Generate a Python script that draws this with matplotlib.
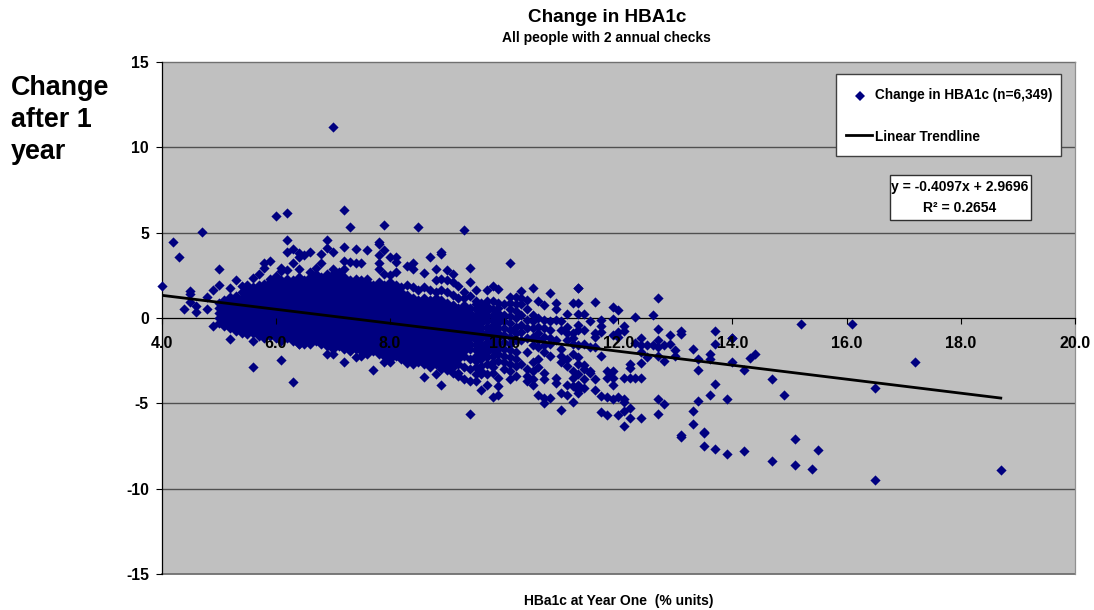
import matplotlib
matplotlib.use("Agg")
import matplotlib.pyplot as plt
from matplotlib.patches import Rectangle

plt.rcParams['font.family'] = ['Liberation Sans', 'DejaVu Sans']
plt.rcParams['font.weight'] = 'bold'
plt.rcParams['axes.unicode_minus'] = False

# dense part of the cloud, one list of changes per HbA1c column
cloud_x = [5.0, 5.1, 5.2, 5.3, 5.4, 5.5, 5.6, 5.7, 5.8, 5.9,
           6.0, 6.1, 6.2, 6.3, 6.4, 6.5, 6.6, 6.7, 6.8, 6.9,
           7.0, 7.1, 7.2, 7.3, 7.4, 7.5, 7.6, 7.7, 7.8, 7.9,
           8.0, 8.1, 8.2, 8.3, 8.4, 8.5, 8.6, 8.7, 8.8, 8.9,
           9.0, 9.1, 9.2, 9.3, 9.4]
cloud_change = [
    [-.3, 0, .3, .6, .9],
    [-.45, -.15, .15, .45, .75, 1.05],
    [-.6, -.3, 0, .3, .6, .9, 1.2],
    [-.75, -.45, -.15, .15, .45, .75, 1.05, 1.3],
    [-.9, -.6, -.3, 0, .3, .6, .9, 1.2, 1.5],
    [-.95, -.75, -.45, -.15, .15, .45, .75, 1.05, 1.35, 1.65],
    [-.9, -.6, -.3, 0, .3, .6, .9, 1.2, 1.5, 1.8],
    [-1.05, -.75, -.45, -.15, .15, .45, .75, 1.05, 1.35, 1.65, 1.95],
    [-1.2, -.9, -.6, -.3, 0, .3, .6, .9, 1.2, 1.5, 1.8, 2.0],
    [-1.05, -.75, -.45, -.15, .15, .45, .75, 1.05, 1.35, 1.65, 1.95, 2.1],
    [-1.2, -.9, -.6, -.3, 0, .3, .6, .9, 1.2, 1.5, 1.8, 2.1],
    [-1.35, -1.05, -.75, -.45, -.15, .15, .45, .75, 1.05, 1.35, 1.65, 1.95, 2.25],
    [-1.2, -.9, -.6, -.3, 0, .3, .6, .9, 1.2, 1.5, 1.8, 2.1, 2.3],
    [-1.35, -1.05, -.75, -.45, -.15, .15, .45, .75, 1.05, 1.35, 1.65, 1.95, 2.25],
    [-1.5, -1.2, -.9, -.6, -.3, 0, .3, .6, .9, 1.2, 1.5, 1.8, 2.1, 2.4],
    [-1.35, -1.05, -.75, -.45, -.15, .15, .45, .75, 1.05, 1.35, 1.65, 1.95, 2.25],
    [-1.5, -1.2, -.9, -.6, -.3, 0, .3, .6, .9, 1.2, 1.5, 1.8, 2.1, 2.4],
    [-1.35, -1.05, -.75, -.45, -.15, .15, .45, .75, 1.05, 1.35, 1.65, 1.95, 2.25, 2.55],
    [-1.5, -1.2, -.9, -.6, -.3, 0, .3, .6, .9, 1.2, 1.5, 1.8, 2.1, 2.4],
    [-1.65, -1.35, -1.05, -.75, -.45, -.15, .15, .45, .75, 1.05, 1.35, 1.65, 1.95, 2.25, 2.55],
    [-1.8, -1.5, -1.2, -.9, -.6, -.3, 0, .3, .6, .9, 1.2, 1.5, 1.8, 2.1, 2.4, 2.6],
    [-1.65, -1.35, -1.05, -.75, -.45, -.15, .15, .45, .75, 1.05, 1.35, 1.65, 1.95, 2.25, 2.55],
    [-1.8, -1.5, -1.2, -.9, -.6, -.3, 0, .3, .6, .9, 1.2, 1.5, 1.8, 2.1, 2.4],
    [-1.95, -1.65, -1.35, -1.05, -.75, -.45, -.15, .15, .45, .75, 1.05, 1.35, 1.65, 1.95, 2.25],
    [-1.8, -1.5, -1.2, -.9, -.6, -.3, 0, .3, .6, .9, 1.2, 1.5, 1.8, 2.1, 2.3],
    [-1.95, -1.65, -1.35, -1.05, -.75, -.45, -.15, .15, .45, .75, 1.05, 1.35, 1.65, 1.95, 2.25],
    [-2.1, -1.8, -1.5, -1.2, -.9, -.6, -.3, 0, .3, .6, .9, 1.2, 1.5, 1.8, 2.1],
    [-1.95, -1.65, -1.35, -1.05, -.75, -.45, -.15, .15, .45, .75, 1.05, 1.35, 1.65, 1.95],
    [-2.1, -1.8, -1.5, -1.2, -.9, -.6, -.3, 0, .3, .6, .9, 1.2, 1.5, 1.8, 2.1],
    [-2.25, -1.95, -1.65, -1.35, -1.05, -.75, -.45, -.15, .15, .45, .75, 1.05, 1.35, 1.65, 1.95],
    [-2.4, -2.1, -1.8, -1.5, -1.2, -.9, -.6, -.3, 0, .3, .6, .9, 1.2, 1.5, 1.8, 2.1],
    [-2.25, -1.95, -1.65, -1.35, -1.05, -.75, -.45, -.15, .15, .45, .75, 1.05, 1.35, 1.65, 1.95],
    [-2.4, -2.1, -1.8, -1.5, -1.2, -.9, -.6, -.3, 0, .3, .6, .9, 1.2, 1.5, 1.8],
    [-2.55, -2.25, -1.95, -1.65, -1.35, -1.05, -.75, -.45, -.15, .15, .45, .75, 1.05, 1.35, 1.95],
    [-2.7, -2.4, -2.1, -1.8, -1.5, -1.2, -.9, -.6, -.3, 0, .3, .6, .9, 1.2, 1.8],
    [-2.55, -2.25, -1.95, -1.65, -1.35, -1.05, -.75, -.45, -.15, .15, .45, .75, 1.05, 1.65],
    [-2.7, -2.4, -2.1, -1.8, -1.5, -1.2, -.9, -.6, -.3, 0, .3, .6, .9, 1.2, 1.8],
    [-2.85, -2.55, -2.25, -1.95, -1.65, -1.35, -1.05, -.75, -.45, -.15, .15, .45, .75, 1.05, 1.65],
    [-2.7, -2.4, -2.1, -1.8, -1.5, -1.2, -.9, -.6, -.3, 0, .3, .6, .9, 1.2, 1.5],
    [-2.85, -2.55, -2.25, -1.95, -1.65, -1.35, -1.05, -.75, -.45, -.15, .15, .45, .75, 1.05, 1.65],
    [-3.0, -2.7, -2.4, -2.1, -1.8, -1.5, -1.2, -.9, -.6, -.3, 0, .3, .6, .9, 1.5],
    [-2.85, -2.55, -2.25, -1.95, -1.65, -1.35, -1.05, -.75, -.45, -.15, .15, .45, .75, 1.35],
    [-3.4, -2.7, -2.4, -2.1, -1.8, -1.5, -1.2, -.9, -.6, -.3, 0, .3, .6, 1.2, 1.9],
    [-3.6, -2.85, -2.25, -1.95, -1.65, -1.35, -1.05, -.75, -.45, -.15, .15, .45, .75, 1.2, 1.5],
    [-3.7, -3.0, -2.4, -1.8, -1.5, -1.2, -.9, -.6, -.3, 0, .3, .6, 1.3, 2.1],
]

# thinner columns to the right of the cloud
sparse_x = [9.5, 9.6, 9.7, 9.8, 9.9, 10.0, 10.1, 10.2, 10.3, 10.4,
            10.5, 10.6, 10.7, 10.8, 10.9, 11.0, 11.1, 11.2, 11.3, 11.4]
sparse_change = [
    [1.65, 1.0, .8, .5, .2, -.1, -.4, -.7, -1.0, -1.3, -1.6, -1.9, -2.2, -2.5, -2.9, -3.3, -3.7],
    [.9, .6, .3, 0, -.3, -.6, -.9, -1.2, -1.5, -1.8, -2.1, -2.4, -2.8, -3.1, -3.3, -4.2],
    [1.65, 1.0, .7, .4, .1, -.2, -.5, -.8, -1.1, -1.4, -1.7, -2.0, -2.3, -2.7, -3.3, -3.9],
    [1.9, 1.0, .5, .2, -.1, -.4, -.7, -1.0, -1.3, -1.6, -1.9, -2.2, -2.6, -2.9, -3.2, -4.6],
    [1.7, .9, .6, .3, 0, -.3, -.6, -.9, -1.2, -1.5, -1.8, -2.1, -2.5, -3.5, -4.0, -4.5],
    [.8, .2, -.2, -.6, -1.0, -1.4, -1.8, -2.2, -2.6, -3.0],
    [1.25, .9, .5, .1, -.3, -.7, -1.1, -1.5, -1.9, -2.3, -2.7, -3.1, -3.6],
    [1.25, .8, .4, 0, -.5, -.9, -1.3, -2.0, -2.4, -2.8, -3.4],
    [1.6, 1.2, .8, .2, -.4, -.8, -1.3, -2.7],
    [1.05, .5, -.1, -.6, -1.2, -2.0, -3.0, -3.4, -3.7],
    [1.75, .2, -.2, -.6, -1.1, -1.6, -2.6, -3.1, -3.6, -3.9],
    [1.0, 0, -.5, -.9, -1.3, -1.7, -2.4, -2.9, -4.5],
    [.75, -.1, -.6, -1.1, -1.6, -2.0, -3.2, -3.6, -4.7, -5.0],
    [1.45, -.2, -.7, -1.2, -1.5, -2.2, -4.7],
    [.85, .5, -.1, -1.3, -3.5, -3.8],
    [-.2, -.7, -1.8, -2.2, -2.6, -4.4, -5.4],
    [.25, -.5, -.9, -1.3, -2.4, -2.8, -3.9, -4.5],
    [.85, -.9, -1.2, -1.5, -2.1, -3.1, -3.5, -4.0, -4.9],
    [1.75, .85, .25, -.4, -.7, -1.6, -2.3, -2.7, -3.3, -3.9, -4.2, -4.4],
    [.25, -.7, -1.5, -2.75, -3.0, -3.6, -4.1],
]

# single points, left side and upper and lower fringe of the cloud
left_x = [4.0, 4.2, 4.3, 4.7, 4.5, 4.5, 4.5, 4.4, 4.6, 4.6, 4.8, 4.8, 5.0, 5.0, 4.9, 5.2, 5.2, 5.2, 5.3,
          4.9, 5.2, 5.6, 6.1, 6.3, 5.6]
left_y = [1.9, 4.45, 3.55, 5.05, 1.6, 1.4, .95, .55, .7, .35, 1.25, .55, 2.85, 1.95, 1.65, 1.75, 1.25, 1.05, 2.25,
          -.45, -1.25, -2.9, -2.45, -3.75, -1.35]

upper_x = [7.0, 6.0, 6.2, 7.2, 7.3, 7.9, 8.5, 6.2, 6.9, 7.2, 7.8, 7.8, 6.2, 6.3, 6.4, 6.4, 6.5, 6.6,
           6.8, 6.9, 7.0, 7.4, 7.6, 7.9, 7.8, 8.0, 8.1, 8.1, 8.9, 8.9, 8.7, 6.3, 5.9, 5.8, 5.8,
           5.7, 5.6, 5.5, 5.4, 6.1, 6.2, 6.4, 6.1, 5.9, 6.0, 6.7, 6.6, 6.8, 7.2, 7.3, 7.4, 7.5,
           7.0, 7.1, 7.2, 7.8, 7.8, 7.9, 8.0, 8.1, 8.3, 8.4, 8.4, 8.6, 8.8, 9.0, 9.1, 8.8, 7.6,
           9.3, 9.4, 9.0, 9.1, 8.9]
upper_y = [11.2, 5.95, 6.15, 6.35, 5.35, 5.45, 5.35, 4.55, 4.55, 4.15, 4.45, 4.35, 3.85, 4.05, 3.8, 3.55, 3.7, 3.85,
           3.75, 4.1, 3.85, 4.05, 4.0, 4.0, 3.7, 3.55, 3.55, 3.3, 3.85, 3.75, 3.55, 3.25, 3.35, 3.2, 2.95,
           2.6, 2.35, 1.95, 1.85, 2.95, 2.8, 2.85, 2.75, 2.3, 2.45, 2.95, 2.7, 3.25, 3.35, 3.3, 3.2, 3.2,
           2.85, 2.7, 2.85, 3.2, 2.85, 2.6, 2.5, 2.7, 3.05, 3.2, 2.9, 2.65, 2.85, 2.8, 2.6, 2.25, 2.3,
           5.15, 2.95, 2.2, 2.1, 2.3]

lower_x = [6.9, 7.0, 7.2, 7.4, 7.5, 7.7, 7.6, 7.9, 8.0, 8.3, 8.4, 8.6, 8.8, 8.9, 9.0, 9.2, 6.5, 6.4, 9.4, 8.9, 9.1]
lower_y = [-2.1, -2.1, -2.55, -2.3, -2.25, -3.05, -2.0, -2.55, -2.55, -2.65, -2.25, -3.45, -3.3, -3.9, -3.05, -3.25, -1.5, -1.5, -5.6, -3.0, -3.2]

# right hand side, read one by one
right_x = [10.1, 11.3, 11.6, 11.9, 12.0, 12.3, 12.6, 12.7, 11.5, 11.7, 11.9, 11.7, 12.1, 12.0, 12.1, 11.7, 11.6, 11.6,
           11.9, 12.0, 12.4, 12.7, 12.7, 12.9, 13.1, 13.1, 13.7, 14.0, 13.7, 11.5, 11.6, 11.7, 12.3, 12.4, 12.5, 12.6,
           12.7, 12.8, 12.9, 12.4, 12.5, 12.7, 12.8, 13.0, 13.0, 13.3, 13.4, 13.6, 13.6, 14.0, 12.4, 12.2, 12.2, 13.4,
           11.8, 11.9, 11.85, 11.8, 11.9, 11.9, 12.1, 12.2, 12.3, 12.4, 11.6, 11.5, 11.5, 13.7, 11.6, 13.6, 13.9, 13.4,
           12.7, 12.8, 11.7, 11.8, 11.9, 12.0, 12.1, 12.1, 12.2, 12.1, 11.7, 11.8, 12.0, 12.2, 12.4, 12.1, 12.7, 13.3,
           13.3, 13.5, 13.1, 13.1, 13.5, 13.7, 15.2, 16.1, 14.4, 14.3, 14.0, 14.2, 14.7, 14.9, 16.5, 17.2, 18.7, 16.5,
           15.4, 15.1, 15.5, 15.1, 14.7, 14.2, 13.9, 13.5]
right_y = [3.25, 1.75, .95, .65, .45, .05, .15, 1.15, -.15, -.1, -.05, -.45, -.45, -.8, -.75, -.8, -.85, -1.1,
           -1.0, -1.1, -1.15, -.65, -1.3, -1.0, -.75, -.95, -.75, -1.15, -1.5, -1.7, -1.7, -2.25, -1.45, -1.6, -1.6, -1.6,
           -1.7, -1.6, -1.5, -2.0, -2.3, -2.2, -2.5, -1.9, -2.25, -1.8, -2.4, -2.1, -2.4, -2.6, -2.65, -2.7, -2.95, -3.05,
           -3.1, -3.1, -3.3, -3.5, -3.5, -3.9, -3.5, -3.5, -3.5, -3.5, -3.6, -3.1, -3.25, -3.85, -4.2, -4.5, -4.75, -4.85,
           -4.75, -5.05, -4.55, -4.6, -4.75, -4.65, -4.75, -4.95, -5.25, -5.45, -5.5, -5.7, -5.7, -5.85, -5.85, -6.3, -5.6, -5.45,
           -6.2, -6.7, -6.85, -6.95, -7.5, -7.7, -.33, -.33, -2.1, -2.35, -1.15, -3.05, -3.55, -4.5, -4.1, -2.6, -8.9, -9.5,
           -8.85, -8.6, -7.75, -7.1, -8.4, -7.8, -7.95, -6.75]

# trendline as given by the equation on the chart
slope = -0.4097
intercept = 2.9696
trend_x = [4.0, 18.7]

x_ticks = [4, 6, 8, 10, 12, 14, 16, 18, 20]
y_ticks = [-15, -10, -5, 0, 5, 10, 15]

NAVY = '#000080'
GREY = '#C0C0C0'

hba1c = []
change = []
for x, ys in zip(cloud_x + sparse_x, cloud_change + sparse_change):
    hba1c += [x] * len(ys)
    change += ys
hba1c += left_x + upper_x + lower_x + right_x
change += left_y + upper_y + lower_y + right_y

W, H = 1094, 610
fig = plt.figure(figsize=(W / 100, H / 100), dpi=100)
ax = fig.add_axes([161.6 / W, 1 - 574 / H, (1075 - 161.6) / W, (574 - 62) / H])
ax.set_facecolor(GREY)


def fx(px):
    return px / W


def fy(py):
    return 1 - py / H


for lev in [-10, -5, 5, 10]:
    ax.axhline(lev, color='#505050', lw=1.0, zorder=1)

ax.scatter(hba1c, change, marker='D', s=27, color=NAVY, linewidths=0, zorder=2, clip_on=False, snap=False)
ax.plot(trend_x, [slope * x + intercept for x in trend_x], color='black', lw=2.0, zorder=3)

ax.set_xlim(4, 20)
ax.set_ylim(-15, 15)
ax.set_xticks(x_ticks)
ax.set_xticklabels([f'{v:.1f}' for v in x_ticks])
ax.set_yticks(y_ticks)
ax.spines['bottom'].set_position(('data', 0))
ax.axhline(-15, color='#707070', lw=1.3, zorder=1, clip_on=False)
ax.axhline(15, color='#707070', lw=1.0, zorder=1, clip_on=False)
for side, sp in ax.spines.items():
    sp.set_zorder(1)
    sp.set_linewidth(0.9)
ax.spines['top'].set_visible(False)
ax.spines['right'].set_color('#909090')
ax.tick_params(axis='x', direction='out', length=4.3, width=0.8, pad=9, labelsize=11.5)
ax.tick_params(axis='y', direction='out', length=4.3, width=0.8, pad=4.8, labelsize=11.3)
ax.xaxis.set_zorder(5)

fig.text(fx(607), fy(17), 'Change in HBA1c', ha='center', va='center', fontsize=13.6)
fig.text(fx(606.7), fy(38), 'All people with 2 annual checks', ha='center', va='center', fontsize=10)
fig.text(fx(618.3), fy(601.5), 'HBa1c at Year One  (% units)', ha='center', va='center', fontsize=10)
fig.text(fx(11), fy(120), 'Change\nafter 1\nyear', ha='left', va='center', fontsize=19.4, linespacing=1.3)

# legend box
fig.add_artist(Rectangle((fx(836), fy(156)), 225 / W, 82 / H, transform=fig.transFigure,
                         facecolor='white', edgecolor='#404040', lw=1.0, zorder=6))
fig.add_artist(plt.Line2D([fx(859.5)], [fy(95.5)], marker='D', ms=4.6, color=NAVY, mew=0, ls='none', zorder=7))
fig.add_artist(plt.Line2D([fx(846), fx(872)], [fy(135), fy(135)], color='black', lw=2.0, zorder=7))
fig.text(fx(875), fy(95.5), 'Change in HBA1c (n=6,349)', va='center', fontsize=9.85, zorder=7)
fig.text(fx(875), fy(137), 'Linear Trendline', va='center', fontsize=9.85, zorder=7)

# equation box
fig.add_artist(Rectangle((fx(889.5), fy(219.5)), 141 / W, 45 / H, transform=fig.transFigure,
                         facecolor='white', edgecolor='#303030', lw=1.0, zorder=6))
fig.text(fx(960), fy(187), 'y = -0.4097x + 2.9696', ha='center', va='center', fontsize=10, zorder=7)
fig.text(fx(960), fy(208), 'R² = 0.2654', ha='center', va='center', fontsize=10, zorder=7)

fig.savefig('out.png', dpi=100)
